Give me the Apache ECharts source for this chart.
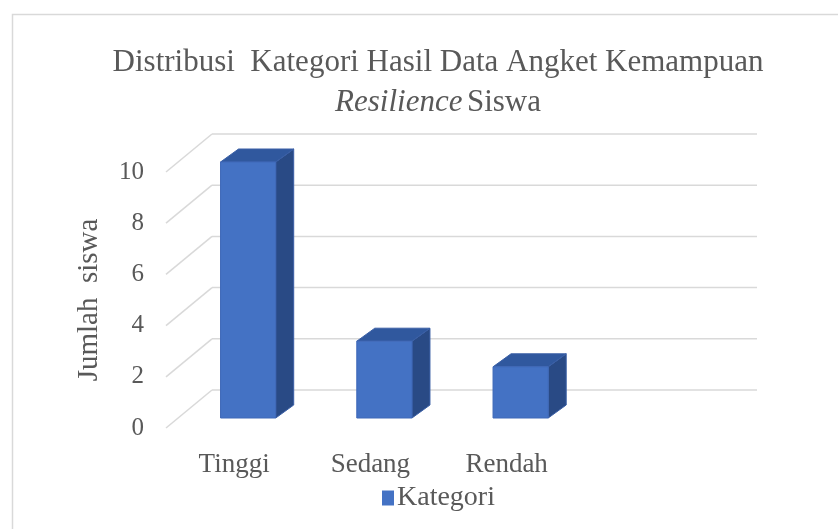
<!DOCTYPE html>
<html>
<head>
<meta charset="utf-8">
<script src="https://cdn.jsdelivr.net/npm/echarts@6/dist/echarts.min.js"></script>
<style>
  html, body { margin: 0; padding: 0; background: #fff; }
  #main { width: 838px; height: 529px; }
</style>
</head>
<body>
<div id="main"></div>
<script>
const categories = ['Tinggi', 'Sedang', 'Rendah'];
const jumlahSiswa = [10, 3, 2];
const yTicks = [0, 2, 4, 6, 8, 10];

const FONT = '"Liberation Serif", "Times New Roman", serif';
const TEXT = '#595959';
// 3D offsets: back wall and bar plane relative to the front plane
const WALL = [46, -38];
const BAR_PLANE = [14, -10];
const BAR_DEPTH = [18, -13];

const chart = echarts.init(document.getElementById('main'));

function renderWall(params, api) {
  const v = api.value(1);
  const y = api.coord([0, v])[1];
  const cs = params.coordSys;
  const x0 = cs.x, x1 = cs.x + cs.width;
  const style = { stroke: '#d9d9d9', lineWidth: 1.5, fill: null };
  return {
    type: 'group',
    children: [
      { type: 'line', shape: { x1: x0, y1: y, x2: x0 + WALL[0], y2: y + WALL[1] }, style },
      { type: 'line', shape: { x1: x0 + WALL[0], y1: y + WALL[1], x2: x1 + WALL[0], y2: y + WALL[1] }, style }
    ]
  };
}

function renderBar(params, api) {
  const i = api.value(0);
  const v = api.value(1);
  const base = api.coord([i, 0]);
  const top = api.coord([i, v]);
  const w = api.size([1, 0])[0] * 0.405;
  const cx = base[0] + BAR_PLANE[0];
  const yb = base[1] + BAR_PLANE[1];
  const yt = top[1] + BAR_PLANE[1];
  const l = cx - w / 2, r = cx + w / 2;
  const dx = BAR_DEPTH[0], dy = BAR_DEPTH[1];
  return {
    type: 'group',
    children: [
      { type: 'polygon', shape: { points: [[r, yt], [r + dx, yt + dy], [r + dx, yb + dy], [r, yb]] },
        style: { fill: '#294a85', stroke: '#3a5fa6', lineWidth: 1 } },
      { type: 'polygon', shape: { points: [[l, yt], [r, yt], [r + dx, yt + dy], [l + dx, yt + dy]] },
        style: { fill: '#30589e', stroke: '#3a5fa6', lineWidth: 1 } },
      { type: 'rect', shape: { x: l, y: yt, width: w, height: yb - yt },
        style: { fill: '#4472c4', stroke: '#3f69b8', lineWidth: 1 } }
    ]
  };
}

chart.setOption({
  backgroundColor: '#fff',
  animation: false,
  textStyle: { fontFamily: FONT },
  title: {
    text: '{n|Distribusi  Kategori Hasil Data Angket Kemampuan}\n{i|Resilience} {n|Siswa}',
    left: 433,
    textAlign: 'center',
    top: 38,
    textStyle: {
      fontWeight: 'normal',
      rich: {
        n: { fontFamily: FONT, fontSize: 31, fontWeight: 'normal', color: TEXT, lineHeight: 40 },
        i: { fontFamily: FONT, fontSize: 31, fontWeight: 'normal', color: TEXT, fontStyle: 'italic', lineHeight: 40 }
      }
    }
  },
  graphic: [{
    type: 'rect', left: 10, top: 12, silent: true,
    shape: { width: 900, height: 600 },
    style: { fill: null, stroke: '#d9d9d9', lineWidth: 1.5 }
  }],
  legend: {
    data: ['Kategori'],
    left: 377,
    top: 479,
    icon: 'rect',
    itemWidth: 12,
    itemHeight: 15,
    itemGap: 6,
    textStyle: { fontFamily: FONT, fontSize: 28, color: TEXT, padding: [0, 0, 0, -2] }
  },
  grid: { left: 166, right: 127, top: 172, bottom: 101 },
  xAxis: {
    type: 'category',
    data: categories,
    max: 3,
    axisLine: { show: false },
    axisTick: { show: false },
    axisLabel: { fontFamily: FONT, fontSize: 27, color: TEXT, margin: 23 }
  },
  yAxis: {
    type: 'value',
    min: 0,
    max: 10,
    interval: 2,
    name: 'Jumlah  siswa',
    nameLocation: 'middle',
    nameRotate: 90,
    nameGap: 62,
    nameTextStyle: { fontFamily: FONT, fontSize: 29, color: TEXT },
    axisLine: { show: false },
    axisTick: { show: false },
    splitLine: { show: false },
    axisLabel: { fontFamily: FONT, fontSize: 25, color: TEXT, margin: 22, padding: [8, 0, 0, 0] }
  },
  series: [
    {
      name: 'wall',
      type: 'custom',
      silent: true,
      z: 1,
      renderItem: renderWall,
      data: yTicks.map(t => [0, t])
    },
    {
      name: 'Kategori',
      type: 'custom',
      z: 5,
      itemStyle: { color: '#4472c4' },
      renderItem: renderBar,
      data: jumlahSiswa.map((v, i) => [i, v])
    }
  ]
});
</script>
</body>
</html>
